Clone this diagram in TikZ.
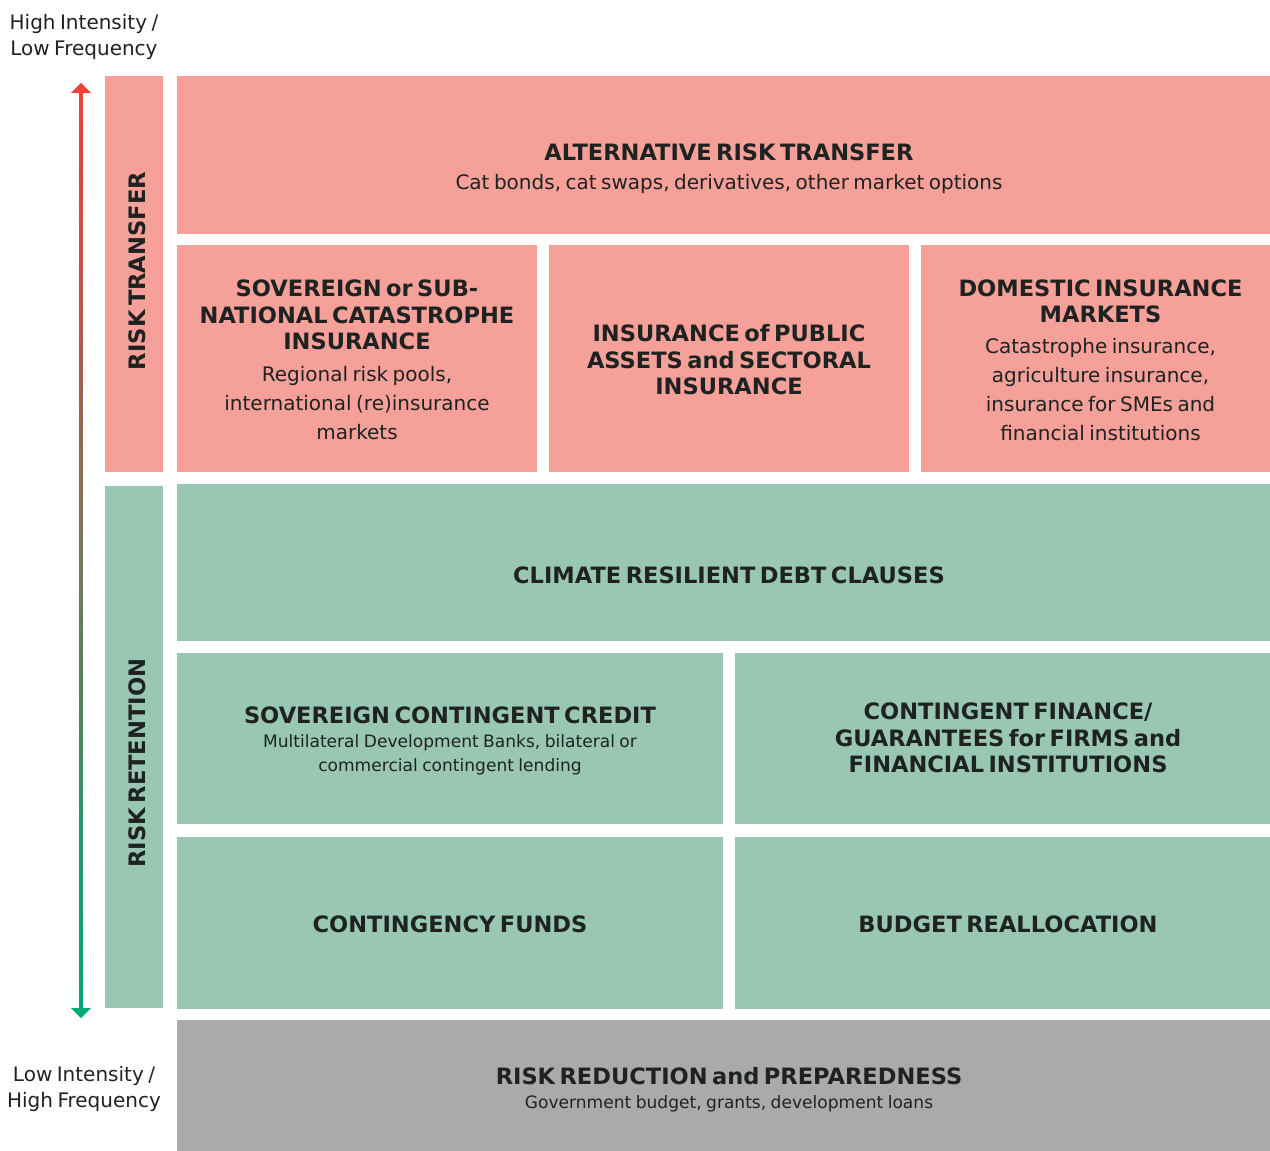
\documentclass[tikz,border=0pt]{standalone}
\usepackage{fontspec}
\setmainfont{DejaVu Sans}
\usetikzlibrary{positioning}
\definecolor{ink}{HTML}{1E2321}
\definecolor{xferpink}{HTML}{F6A09A}
\definecolor{retgreen}{HTML}{99C7B3}
\definecolor{redgray}{HTML}{ABAAA9}
\definecolor{arrred}{HTML}{EF4136}
\definecolor{arrgreen}{HTML}{00A878}
% type sizes
\newcommand\ttlf{\bfseries\fontsize{16.9}{19.8}\selectfont}
\newcommand\subf{\fontsize{15}{21.8}\selectfont}
\newcommand\smlf{\fontsize{12.8}{18}\selectfont}
\newcommand\sidef{\bfseries\fontsize{17}{20}\selectfont}
\newcommand\cornf{\fontsize{15}{20.2}\selectfont}
\tikzset{
  cell/.style={fill=#1, draw=none, inner sep=0pt, outer sep=0pt},
  lbl/.style={text=ink, align=center, inner sep=0pt, text width=#1*0.75pt},
}

\begin{document}
\begin{tikzpicture}[x=0.75pt, y=-0.75pt]
  \useasboundingbox (0,0) rectangle (1270,1151);
  % blocks
  \foreach \nm/\cx/\cy/\w/\h/\col in {
      sidext/134/274/58/396/xferpink, sideret/134/747/58/522/retgreen,
      art/723.5/155/1093/158/xferpink,
      sov/357/358.5/360/227/xferpink, pub/729/358.5/360/227/xferpink,
      dom/1095.5/358.5/349/227/xferpink,
      crd/723.5/562.5/1093/157/retgreen,
      scc/450/738.5/546/171/retgreen, cfg/1002.5/738.5/535/171/retgreen,
      cfu/450/923/546/172/retgreen, bre/1002.5/923/535/172/retgreen,
      rrp/723.5/1085.5/1093/131/redgray}
    \node[cell=\col, minimum width=\w*0.75pt, minimum height=\h*0.75pt] (\nm) at (\cx,\cy) {};

  % intensity arrow
  \coordinate (hi) at (81,83);
  \coordinate (lo) at (81,1018);
  \shade[top color=arrred, bottom color=arrgreen] ([xshift=-1.1pt,yshift=-7pt]hi) rectangle ([xshift=1.1pt,yshift=7pt]lo);
  \fill[arrred] (hi) -- ++(-10,10) -- ++(20,0) -- cycle;
  \fill[arrgreen] (lo) -- ++(-10,-10) -- ++(20,0) -- cycle;

  \node[lbl=200] (hilbl) at (84,37) {\cornf High Intensity /\\Low Frequency\par};
  \node[lbl=200] (lolbl) at (84,1089) {\cornf Low Intensity /\\High Frequency\par};

  \node[lbl=300, rotate=90] (xferlbl) at (137,271) {\sidef RISK TRANSFER\par};
  \node[lbl=300, rotate=90] (retlbl) at (137,763) {\sidef RISK RETENTION\par};

  % labels
  \node[lbl=1000] (art-t) at (729,169) {{\ttlf ALTERNATIVE RISK TRANSFER\par}{\subf Cat bonds, cat swaps, derivatives, other market options\par}};
  \node[lbl=340] (sov-t) at (357,360) {{\ttlf SOVEREIGN or SUB-\\NATIONAL CATASTROPHE\\INSURANCE\par}\vspace{2pt}{\subf Regional risk pools,\\international (re)insurance\\markets\par}};
  \node[lbl=340] (pub-t) at (729,360) {\ttlf INSURANCE of PUBLIC\\ASSETS and SECTORAL\\INSURANCE\par};
  \node[lbl=340] (dom-t) at (1100.5,360) {{\ttlf DOMESTIC INSURANCE\\MARKETS\par}\vspace{1pt}{\subf Catastrophe insurance,\\agriculture insurance,\\insurance for SMEs and\\financial institutions\par}};
  \node[lbl=1000] (crd-t) at (729,575) {\ttlf CLIMATE RESILIENT DEBT CLAUSES\par};
  \node[lbl=520] (scc-t) at (450,741) {{\ttlf SOVEREIGN CONTINGENT CREDIT\par}{\smlf Multilateral Development Banks, bilateral or\\commercial contingent lending\par}};
  \node[lbl=520] (cfg-t) at (1008,738) {\ttlf CONTINGENT FINANCE/\\GUARANTEES for FIRMS and\\FINANCIAL INSTITUTIONS\par};
  \node[lbl=520] (cfu-t) at (450,924) {\ttlf CONTINGENCY FUNDS\par};
  \node[lbl=520] (bre-t) at (1008,924) {\ttlf BUDGET REALLOCATION\par};
  \node[lbl=1000] (rrp-t) at (729,1090) {{\ttlf RISK REDUCTION and PREPAREDNESS\par}{\smlf Government budget, grants, development loans\par}};
\end{tikzpicture}
\end{document}
